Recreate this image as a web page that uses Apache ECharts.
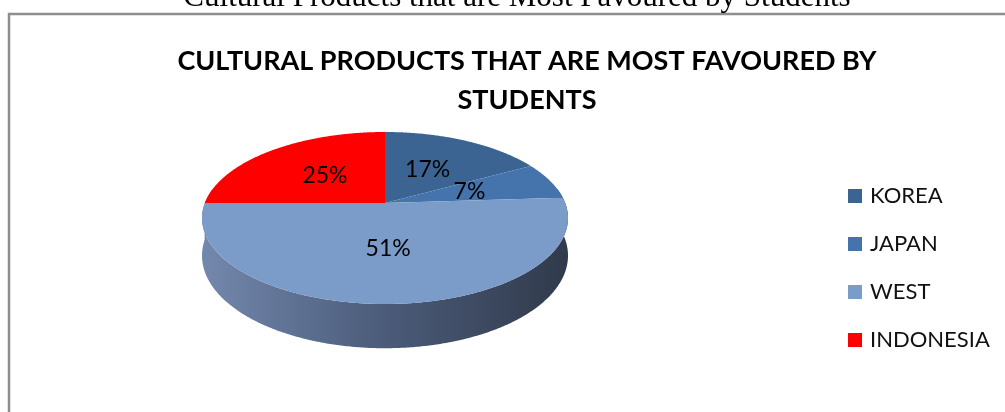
<!DOCTYPE html>
<html><head><meta charset="utf-8">
<script src="https://cdn.jsdelivr.net/npm/echarts/dist/echarts.min.js"></script>
<style>html,body{margin:0;padding:0;background:#fff}#c{width:1005px;height:412px}</style>
</head><body><div id="c"></div>
<script>
// ---- data ----
const categories = ['KOREA', 'JAPAN', 'WEST', 'INDONESIA'];
const values = [17, 7, 51, 25];
const chartTitle = 'CULTURAL PRODUCTS THAT ARE MOST FAVOURED BY\nSTUDENTS';
const captionText = 'Cultural Products that are Most Favoured by Students';

// ---- style ----
const colors = ['#3b6493', '#4574ad', '#7b9bc8', '#ff0000'];
const FONT = 'Lato, "Open Sans", sans-serif';

// pie layout (perspective ellipse)
const CX = 385, CY = 203, A = 180.2, B = 83.4, P = 0.1744, H = 36.5;
const total = values.reduce((a, b) => a + b, 0);

function proj(deg, r) {
  const t = deg * Math.PI / 180;
  const X = r * Math.sin(t), Z = r * Math.cos(t);
  const w = 1 + P * Z;
  return [CX + A * X / w, CY - B * Z / w, w];
}

function renderSlice(params, api) {
  const i = params.seriesIndex;
  let before = 0;
  for (let k = 0; k < i; k++) before += values[k];
  const v = api.value(0);
  const start = before / total * 360;
  const end = (before + v) / total * 360;
  const children = [];
  // top face
  const pts = [proj(0, 0).slice(0, 2)];
  const n = Math.max(2, Math.ceil(end - start) * 2);
  for (let j = 0; j <= n; j++) {
    const a = start + (end - start) * j / n;
    pts.push(proj(a, 1).slice(0, 2));
  }
  children.push({
    type: 'polygon', z2: 10,
    shape: { points: pts },
    style: { fill: colors[i], stroke: null }
  });
  // side wall (front part only)
  const s0 = Math.max(start, 80), s1 = Math.min(end, 280);
  if (s1 > s0) {
    const top = [], bot = [];
    const m = Math.max(2, Math.ceil(s1 - s0) * 2);
    for (let j = 0; j <= m; j++) {
      const a = s0 + (s1 - s0) * j / m;
      const p = proj(a, 1);
      top.push([p[0], p[1]]);
      bot.push([p[0], p[1] + H / p[2]]);
    }
    children.push({
      type: 'polygon', z2: 1,
      shape: { points: top.concat(bot.reverse()) },
      style: {
        fill: new echarts.graphic.LinearGradient(CX - A - 3, 0, CX + A + 3, 0, [
          { offset: 0, color: '#7388ad' },
          { offset: 0.5, color: '#4b5b79' },
          { offset: 1, color: '#303a4b' }
        ], true),
        stroke: null
      }
    });
  }
  // label
  const lp = proj((start + end) / 2, 0.5);
  children.push({
    type: 'text', z2: 20,
    x: lp[0], y: lp[1],
    style: {
      text: v + '%', fill: '#000', font: '23px ' + FONT,
      textAlign: 'center', textVerticalAlign: 'middle'
    }
  });
  return { type: 'group', children: children };
}

const chart = echarts.init(document.getElementById('c'), null, { renderer: 'canvas' });
chart.setOption({
  animation: false,
  backgroundColor: '#fff',
  graphic: [
    { type: 'rect', z: 0, shape: { x: 9, y: 14, width: 1200, height: 600 },
      style: { fill: 'none', stroke: '#8e8e8e', lineWidth: 2.5 } },
    { type: 'text', x: 517, y: 13, z: 1,
      style: { text: captionText, font: '31px "Liberation Serif", serif', fill: '#000',
               textAlign: 'center', textVerticalAlign: 'bottom' } },
    { type: 'text', x: 527, y: 80.5, z: 1,
      style: { text: chartTitle, font: 'bold 27px ' + FONT, fill: '#000', lineHeight: 39,
               textAlign: 'center', textVerticalAlign: 'middle' } }
  ],
  legend: {
    orient: 'vertical', left: 843, top: 180,
    icon: 'rect', itemWidth: 14, itemHeight: 14, itemGap: 26,
    selectedMode: false,
    textStyle: { fontFamily: FONT, fontSize: 22, color: '#111', lineHeight: 20, padding: [0, 0, 0, 3] },
    data: categories
  },
  series: categories.map((c, i) => ({
    type: 'custom', name: c, coordinateSystem: 'none', silent: true,
    itemStyle: { color: colors[i] },
    data: [[values[i]]],
    renderItem: renderSlice
  }))
});
</script></body></html>
